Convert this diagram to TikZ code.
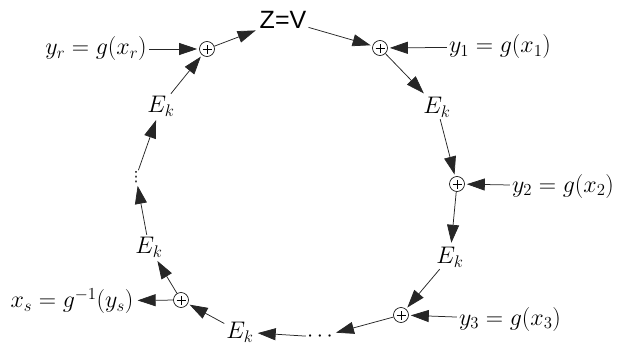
\RequirePackage{fix-cm}
\documentclass[tikz,border=0pt]{standalone}
\usepackage{fontspec}
\newfontfamily\arialf{Liberation Sans}
\newfontfamily\dejavu{DejaVu Sans}
\usetikzlibrary{arrows.meta}
\newcommand\lbl{\fontsize{24}{26}\selectfont}
\tikzset{
  arr/.style={-{Triangle[length=18pt,width=12pt]}, line width=0.75pt, black!85, shorten >=2pt},
  sumc/.style={circle, draw, line width=0.6pt, minimum size=15pt, inner sep=0pt,
    path picture={
      \draw[line width=0.9pt] ([xshift=-4.5pt]path picture bounding box.center) -- ([xshift=4.5pt]path picture bounding box.center);
      \draw[line width=0.9pt] ([yshift=-4.5pt]path picture bounding box.center) -- ([yshift=4.5pt]path picture bounding box.center);
    }},
  lab/.style={inner sep=2pt, font=\lbl},
}
\begin{document}
\begin{tikzpicture}[x=1pt,y=-1pt]
\useasboundingbox (0,0) rectangle (622,348);
% summation nodes
\node[sumc] (sr) at (207,49) {};
\node[sumc] (s1) at (380,48) {};
\node[sumc] (s2) at (457,184) {};
\node[sumc] (s3) at (401,315) {};
\node[sumc] (ss) at (181,300) {};
% labels
\node[inner sep=2pt, font=\arialf\fontsize{25}{27}\selectfont] (z) at (283,20) {Z=V};
\node[lab] (yr) at (96,49) {$y_r = g(x_r)$};
\node[lab] (y1) at (500,47) {$y_1 = g(x_1)$};
\node[lab] (y2) at (563,186) {$y_2 = g(x_2)$};
\node[lab] (y3) at (510,319) {$y_3 = g(x_3)$};
\node[lab] (xs) at (72,301) {$x_s = g^{-1}(y_s)$};
\node[lab] (e1) at (437,107) {$E_k$};
\node[lab] (e2) at (450,257) {$E_k$};
\node[lab] (eb) at (240,332) {$E_k$};
\node[lab] (ell) at (149,247) {$E_k$};
\node[lab] (eul) at (161,106) {$E_k$};
\node[inner sep=1pt, font=\dejavu\fontsize{14}{14}\selectfont] (vd) at (136,177) {⋮};
\node[inner sep=1pt, font=\fontsize{22}{22}\selectfont] (hd) at (320,337) {$\cdots$};
% connectors
\draw[arr] (yr) -- (sr);
\draw[arr] (sr) -- (z);
\draw[arr] (eul) -- (sr);
\draw[arr] (z) -- (s1);
\draw[arr] (y1) -- (s1);
\draw[arr] (s1) -- (e1);
\draw[arr] (e1) -- (s2);
\draw[arr] (y2) -- (s2);
\draw[arr] (s2) -- (e2);
\draw[arr] (e2) -- (s3);
\draw[arr] (y3) -- (s3);
\draw[arr] (s3) -- (hd);
\draw[arr] (hd) -- (eb);
\draw[arr] (eb) -- (ss);
\draw[arr] (ss) -- (xs);
\draw[arr] (ss) -- (ell);
\draw[arr] (ell) -- (vd);
\draw[arr] (vd) -- (eul);
\end{tikzpicture}
\end{document}
